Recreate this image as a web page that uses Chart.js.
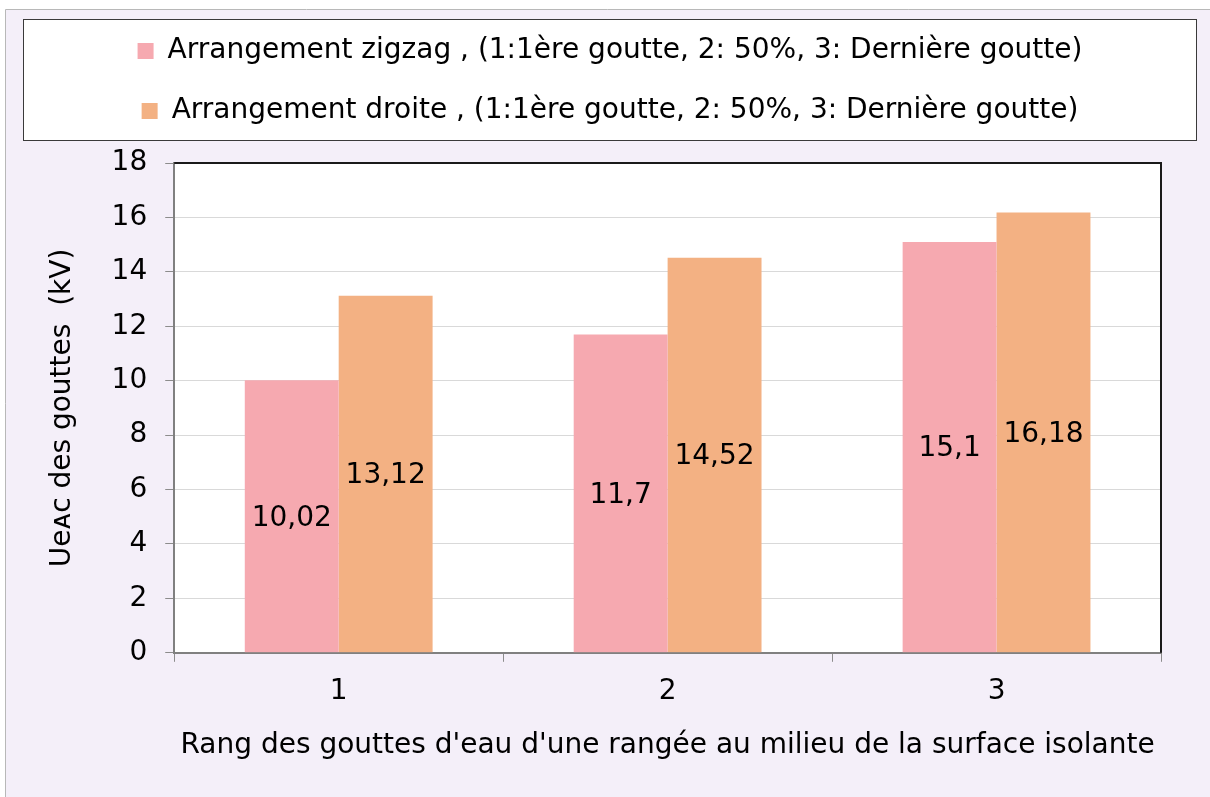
<!DOCTYPE html>
<html>
<head>
<meta charset="utf-8">
<title>Tension des gouttes</title>
<script src="https://cdn.jsdelivr.net/npm/chart.js@4.4.0/dist/chart.umd.min.js"></script>
<style>
  html, body { margin: 0; padding: 0; background: #ffffff; }
  canvas { display: block; }
</style>
</head>
<body>
<canvas id="chart" width="1210" height="797"></canvas>
<script>
// values per drop rank, kV
const categories = ['1', '2', '3'];
const zigzagValues = [10.02, 11.7, 15.1];
const droiteValues = [13.12, 14.52, 16.18];

const seriesNames = [
  'Arrangement zigzag , (1:1ère goutte, 2: 50%, 3: Dernière goutte)',
  'Arrangement droite , (1:1ère goutte, 2: 50%, 3: Dernière goutte)'
];
const seriesColors = ['#F6A9B0', '#F3B183'];

const yMin = 0;
const yMax = 18;
const yStep = 2;

const xTitle = "Rang des gouttes d'eau d'une rangée au milieu de la surface isolante";
const yTitle = 'Ueᴀᴄ des gouttes  (kV)';

const FONT = "'DejaVu Sans', Verdana, sans-serif";
const TEXT_SIZE = 28;

Chart.defaults.font.family = FONT;
Chart.defaults.font.size = TEXT_SIZE;
Chart.defaults.color = '#000000';

// page background, legend panel and white plot area
const framePlugin = {
  id: 'frame',
  beforeInit(chart) {
    const legend = chart.legend;
    const fit = legend.fit;
    legend.fit = function () {
      fit.call(this);
      this.height = 158;
    };
    const draw = legend.draw;
    legend.draw = function () {
      const ctx = this.ctx;
      const shift = 610 - (this.left + this.right) / 2;
      ctx.save();
      ctx.translate(shift, 0);
      draw.call(this);
      ctx.restore();
    };
  },
  beforeDraw(chart) {
    const { ctx, width, height, chartArea: a } = chart;
    ctx.save();
    ctx.fillStyle = '#ffffff';
    ctx.fillRect(0, 0, width, height);
    ctx.fillStyle = '#F4EFF9';
    ctx.fillRect(6, 10, width - 6, height - 10);
    ctx.strokeStyle = '#b8b8b8';
    ctx.lineWidth = 1;
    ctx.beginPath();
    ctx.moveTo(5.5, height);
    ctx.lineTo(5.5, 9.5);
    ctx.lineTo(width, 9.5);
    ctx.stroke();

    ctx.fillStyle = '#ffffff';
    ctx.fillRect(23, 19, 1174, 122);
    ctx.strokeStyle = '#3a3a3a';
    ctx.strokeRect(23.5, 19.5, 1173, 121);

    ctx.fillRect(a.left, a.top, a.width, a.height);
    ctx.restore();
  },
  afterDatasetsDraw(chart) {
    const { ctx, chartArea: a } = chart;
    ctx.save();
    ctx.strokeStyle = '#1a1a1a';
    ctx.lineWidth = 2;
    ctx.beginPath();
    ctx.moveTo(a.left, a.top);
    ctx.lineTo(a.right, a.top);
    ctx.lineTo(a.right, a.bottom);
    ctx.stroke();
    ctx.restore();
  }
};

// value written in the middle of each bar, decimal comma
const barValuesPlugin = {
  id: 'barValues',
  afterDatasetsDraw(chart) {
    const { ctx } = chart;
    ctx.save();
    ctx.font = TEXT_SIZE + 'px ' + FONT;
    ctx.fillStyle = '#000000';
    ctx.textAlign = 'center';
    ctx.textBaseline = 'middle';
    chart.data.datasets.forEach((ds, i) => {
      chart.getDatasetMeta(i).data.forEach((bar, j) => {
        const text = String(ds.data[j]).replace('.', ',');
        ctx.fillText(text, bar.x, (bar.y + bar.base) / 2 + 2);
      });
    });
    ctx.restore();
  }
};

new Chart(document.getElementById('chart'), {
  type: 'bar',
  data: {
    labels: categories,
    datasets: [
      {
        label: seriesNames[0],
        data: zigzagValues,
        backgroundColor: seriesColors[0],
        borderWidth: 0,
        barPercentage: 1,
        categoryPercentage: 0.571
      },
      {
        label: seriesNames[1],
        data: droiteValues,
        backgroundColor: seriesColors[1],
        borderWidth: 0,
        barPercentage: 1,
        categoryPercentage: 0.571
      }
    ]
  },
  options: {
    responsive: false,
    animation: false,
    devicePixelRatio: 1,
    layout: { padding: { top: 5, left: 10, right: 49, bottom: 34 } },
    plugins: {
      legend: {
        position: 'top',
        labels: {
          color: '#000000',
          font: { size: TEXT_SIZE },
          boxWidth: 16,
          boxHeight: 16,
          padding: 32
        }
      },
      tooltip: { enabled: false }
    },
    scales: {
      x: {
        ticks: { color: '#000000', font: { size: TEXT_SIZE }, padding: 13 },
        grid: {
          display: true,
          drawOnChartArea: false,
          offset: true,
          tickColor: '#8c8c8c',
          tickLength: 9
        },
        border: { color: '#808080', width: 2 },
        title: {
          display: true,
          text: xTitle,
          color: '#000000',
          font: { size: TEXT_SIZE },
          padding: { top: 8, bottom: 0 }
        }
      },
      y: {
        min: yMin,
        max: yMax,
        ticks: { stepSize: yStep, color: '#000000', font: { size: TEXT_SIZE }, padding: 18 },
        grid: { color: '#d9d9d9', tickColor: '#8c8c8c', tickLength: 9, lineWidth: 1 },
        border: { color: '#808080', width: 2 },
        title: {
          display: true,
          text: yTitle,
          color: '#000000',
          font: { size: TEXT_SIZE },
          padding: { top: 36, bottom: 14 }
        }
      }
    }
  },
  plugins: [framePlugin, barValuesPlugin]
});
</script>
</body>
</html>
